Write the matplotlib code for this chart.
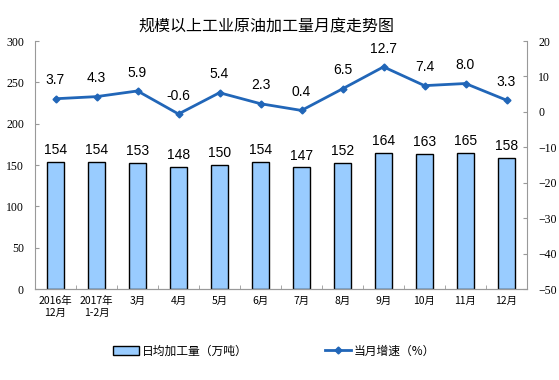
import numpy as np
import matplotlib.pyplot as plt

plt.rcParams['font.family'] = ['Noto Sans CJK SC', 'DejaVu Sans']

# 数据
meses = ['2016年\n12月', '2017年\n1-2月', '3月', '4月', '5月', '6月',
         '7月', '8月', '9月', '10月', '11月', '12月']
jiagong = [154, 154, 153, 148, 150, 154, 147, 152, 164, 163, 165, 158]
zengsu = [3.7, 4.3, 5.9, -0.6, 5.4, 2.3, 0.4, 6.5, 12.7, 7.4, 8.0, 3.3]

fig = plt.figure(figsize=(5.59, 3.80), dpi=100)
ax = fig.add_axes([35/559, 1 - 289/380, (527 - 35)/559, (289 - 41)/380])
ax2 = ax.twinx()

x = np.arange(len(meses))
ax.bar(x, jiagong, width=0.42, color='#99CCFF', edgecolor='black',
       linewidth=1.0, label='日均加工量（万吨）', zorder=2)
for xi, v in zip(x, jiagong):
    ax.text(xi, v + 6, f'{v}', ha='center', va='bottom', fontsize=10,
            family='Liberation Sans')

ax2.plot(x, zengsu, color='#2166B8', linewidth=2, marker='D', markersize=3.5,
         label='当月增速（%）')
for xi, v in zip(x, zengsu):
    ax2.text(xi, v + 3.2, f'{v:.1f}', ha='center', va='bottom', fontsize=10,
             family='Liberation Sans')

ax.set_xlim(-0.5, len(meses) - 0.5)
ax.set_ylim(0, 300)
ax.set_yticks(np.arange(0, 301, 50))
ax2.set_ylim(-50, 20)
ax2.set_yticks(np.arange(-50, 21, 10))

ax.set_xticks(x)
ax.set_xticklabels(meses, fontsize=7.5, linespacing=1.25)
ax.set_xticks(np.arange(-0.5, len(meses), 1), minor=True)
ax.tick_params(axis='x', which='major', length=0, pad=5)
ax.tick_params(axis='x', which='minor', length=3, direction='in', color='#999999')

for a in (ax, ax2):
    for s in a.spines.values():
        s.set_color('#999999')
    a.spines['top'].set_visible(False)
    a.tick_params(axis='y', direction='in', length=3, color='#999999',
                  labelsize=8.5)
    for lab in a.get_yticklabels():
        lab.set_family('Liberation Serif')
ax.tick_params(axis='y', pad=8)
ax2.tick_params(axis='y', pad=8)
ax2.spines['left'].set_visible(False)
ax.spines['right'].set_visible(False)

fig.text(266/559, 1 - 27/380, '规模以上工业原油加工量月度走势图', ha='center',
         va='center', fontsize=11.5)

h1, l1 = ax.get_legend_handles_labels()
h2, l2 = ax2.get_legend_handles_labels()
fig.legend(h1 + h2, l1 + l2, loc='center', bbox_to_anchor=(274/559, 1 - 351/380),
           ncol=2, frameon=False, fontsize=8.5, handlelength=2.2, handleheight=0.7,
           handletextpad=0.3, columnspacing=6.5)

fig.savefig('out.png', dpi=100)
